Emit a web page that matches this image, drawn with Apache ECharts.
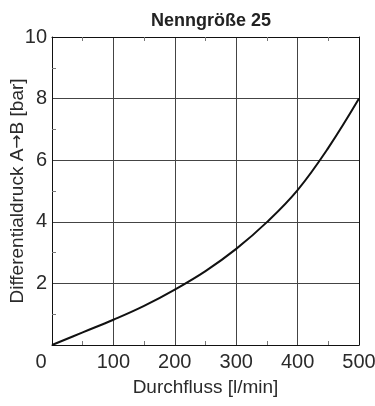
<!DOCTYPE html>
<html>
<head>
<meta charset="utf-8">
<style>
  html, body { margin: 0; padding: 0; background: #fff; }
  #chart { width: 375px; height: 406px; }
</style>
<script src="https://cdn.jsdelivr.net/npm/echarts@6/dist/echarts.min.js"></script>
</head>
<body>
<div id="chart"></div>
<script>
// Flow rate (l/min) and differential pressure A→B (bar), size 25
const flow = [0, 50, 100, 150, 200, 250, 300, 350, 400, 450, 500];
const pressure = [0, 0.41, 0.82, 1.27, 1.80, 2.40, 3.12, 3.99, 5.03, 6.40, 8.0];

const xTicks = [0, 100, 200, 300, 400, 500];
const yTicks = [2, 4, 6, 8, 10];

const titleText = 'Nenngröße 25';
const xName = 'Durchfluss [l/min]';
const yNameParts = ['Differentialdruck A', '→', 'B [bar]'];

const tickFont = { fontFamily: '"Liberation Sans Narrow", "Liberation Sans", sans-serif', fontSize: 20, color: '#2a2a2a' };
const nameFont = { fontFamily: '"Liberation Sans", Arial, sans-serif', fontSize: 19, color: '#2a2a2a' };

const chart = echarts.init(document.getElementById('chart'), null, { renderer: 'canvas' });

const frameLine = { show: true, onZero: false, lineStyle: { color: '#111', width: 1 } };
const minor = { show: true, splitNumber: 2, length: 4, lineStyle: { color: '#777', width: 1 } };

chart.setOption({
  animation: false,
  title: {
    text: titleText,
    left: 206, top: 7, textAlign: 'center',
    textStyle: { fontFamily: '"Liberation Sans", Arial, sans-serif', fontWeight: 'bold', fontSize: 18, color: '#222' }
  },
  grid: { left: 52, right: 16, top: 37, bottom: 61, containLabel: false, outerBoundsMode: 'none' },
  xAxis: [
    {
      type: 'value', position: 'bottom', min: 0, max: 500, interval: 100,
      name: xName, nameLocation: 'middle', nameGap: 33, nameMoveOverlap: false, nameTextStyle: nameFont,
      axisLine: frameLine,
      axisTick: { show: false, inside: true },
      minorTick: minor,
      splitLine: { show: true, lineStyle: { color: '#444', width: 1 } },
      axisLabel: {
        margin: 7,
        formatter: v => xTicks.includes(v) ? (v === 0 ? '{z|0}' : String(v)) : '',
        ...tickFont,
        rich: { z: { ...tickFont, padding: [0, 22, 0, 0] } }
      }
    },
    {
      type: 'value', position: 'top', min: 0, max: 500, interval: 100,
      axisLine: frameLine,
      axisTick: { show: false, inside: true },
      minorTick: minor,
      splitLine: { show: false },
      axisLabel: { show: false }
    }
  ],
  yAxis: [
    {
      type: 'value', position: 'left', min: 0, max: 10, interval: 2,
      name: yNameParts[0] + '{a|' + yNameParts[1] + '}' + yNameParts[2],
      nameLocation: 'middle', nameGap: 25, nameMoveOverlap: false,
      nameTextStyle: {
        ...nameFont,
        rich: { a: { fontFamily: '"DejaVu Sans", sans-serif', fontSize: 17, color: '#2a2a2a' } }
      },
      axisLine: frameLine,
      axisTick: { show: false, inside: true },
      minorTick: minor,
      splitLine: { show: true, lineStyle: { color: '#444', width: 1 } },
      axisLabel: {
        margin: 5,
        formatter: v => yTicks.includes(v) ? String(v) : '',
        ...tickFont
      }
    },
    {
      type: 'value', position: 'right', min: 0, max: 10, interval: 2,
      axisLine: frameLine,
      axisTick: { show: false },
      splitLine: { show: false },
      axisLabel: { show: false }
    }
  ],
  series: [
    {
      type: 'line',
      data: flow.map((f, i) => [f, pressure[i]]),
      smooth: 0.4,
      showSymbol: false,
      lineStyle: { color: '#111', width: 2 },
      xAxisIndex: 0, yAxisIndex: 0
    }
  ]
});
</script>
</body>
</html>
